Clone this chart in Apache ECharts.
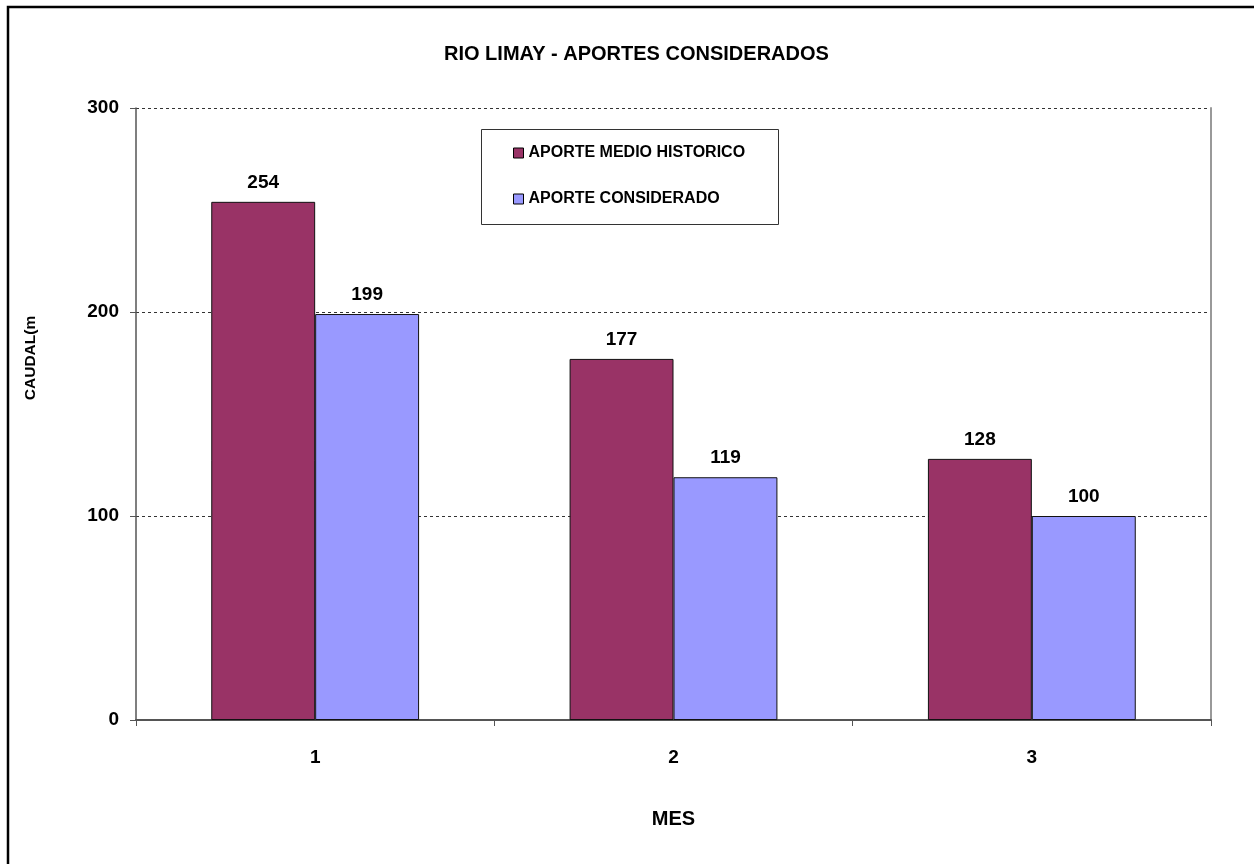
<!DOCTYPE html>
<html>
<head>
<meta charset="utf-8">
<title>RIO LIMAY - APORTES CONSIDERADOS</title>
<script src="https://cdn.jsdelivr.net/npm/echarts@6/dist/echarts.min.js"></script>
<style>
  html, body { margin: 0; padding: 0; background: #fff; }
  #chart { width: 1254px; height: 864px; }
</style>
</head>
<body>
<div id="chart"></div>
<script>
// Monthly inflows of the Limay river (m3/s)
const months = ['1', '2', '3'];
const historicMean = [254, 177, 128];
const consideredInflow = [199, 119, 100];
const yTicks = [0, 100, 200, 300];
const seriesNames = ['APORTE MEDIO HISTORICO', 'APORTE CONSIDERADO'];

const FONT = '"Liberation Sans", Arial, sans-serif';
const chart = echarts.init(document.getElementById('chart'));

const labelStyle = {
  show: true,
  position: 'top',
  distance: 10,
  color: '#000',
  fontFamily: FONT,
  fontWeight: 'bold',
  fontSize: 19
};

chart.setOption({
  backgroundColor: '#fff',
  animation: false,
  title: {
    text: 'RIO LIMAY - APORTES CONSIDERADOS',
    left: 439,
    top: 39,
    textStyle: { fontFamily: FONT, fontWeight: 'bold', fontSize: 20, color: '#000' }
  },
  legend: {
    orient: 'vertical',
    left: 508,
    top: 140,
    itemWidth: 10,
    itemHeight: 10,
    itemGap: 30,
    icon: 'rect',
    data: seriesNames,
    textStyle: { fontFamily: FONT, fontWeight: 'bold', fontSize: 16, color: '#000', lineHeight: 16 },
    itemStyle: { borderColor: '#000', borderWidth: 1 }
  },
  grid: { left: 136, right: 43, top: 108, bottom: 144 },
  xAxis: {
    type: 'category',
    data: months,
    name: 'MES',
    nameLocation: 'middle',
    nameGap: 89,
    nameTextStyle: { fontFamily: FONT, fontWeight: 'bold', fontSize: 20, color: '#000' },
    axisLine: { lineStyle: { color: '#555', width: 2 } },
    axisTick: { show: true, length: 6, inside: false, lineStyle: { color: '#555' } },
    axisLabel: { margin: 28, fontFamily: FONT, fontWeight: 'bold', fontSize: 19, color: '#000' }
  },
  yAxis: [
    {
      type: 'value',
      min: yTicks[0],
      max: yTicks[yTicks.length - 1],
      interval: yTicks[1] - yTicks[0],
      axisLine: { show: true, lineStyle: { color: '#555', width: 1.5 } },
      axisTick: { show: true, length: 6, lineStyle: { color: '#555' } },
      axisLabel: { margin: 17, fontFamily: FONT, fontWeight: 'bold', fontSize: 19, color: '#000' },
      splitLine: { show: true, lineStyle: { color: '#333', type: [3, 3], width: 1 } }
    },
    {
      type: 'value',
      position: 'right',
      min: yTicks[0],
      max: yTicks[yTicks.length - 1],
      interval: yTicks[1] - yTicks[0],
      axisLine: { show: true, lineStyle: { color: '#999', width: 2 } },
      axisTick: { show: false },
      axisLabel: { show: false },
      splitLine: { show: false }
    }
  ],
  series: [
    {
      name: seriesNames[0],
      type: 'bar',
      data: historicMean,
      barGap: '0%',
      barCategoryGap: '42%',
      itemStyle: { color: '#993366', borderColor: '#111', borderWidth: 1 },
      label: labelStyle
    },
    {
      name: seriesNames[1],
      type: 'bar',
      data: consideredInflow,
      barGap: '0%',
      barCategoryGap: '42%',
      itemStyle: { color: '#9999FF', borderColor: '#111', borderWidth: 1 },
      label: labelStyle
    }
  ],
  graphic: [
    {
      // outer frame of the chart sheet
      type: 'rect',
      shape: { x: 8, y: 7, width: 1300, height: 900 },
      style: { fill: 'none', stroke: '#000', lineWidth: 2.5 },
      silent: true
    },
    {
      // legend frame
      type: 'rect',
      shape: { x: 481.5, y: 129.5, width: 297, height: 95 },
      style: { fill: 'none', stroke: '#333', lineWidth: 1 },
      silent: true,
      z: 10
    },
    {
      // vertical axis title
      type: 'text',
      x: 31,
      y: 358,
      rotation: Math.PI / 2,
      style: {
        text: 'CAUDAL(m',
        fontFamily: FONT,
        fontWeight: 'bold',
        fontSize: 15.5,
        fill: '#000',
        align: 'center',
        verticalAlign: 'middle'
      },
      silent: true
    }
  ]
});
</script>
</body>
</html>
